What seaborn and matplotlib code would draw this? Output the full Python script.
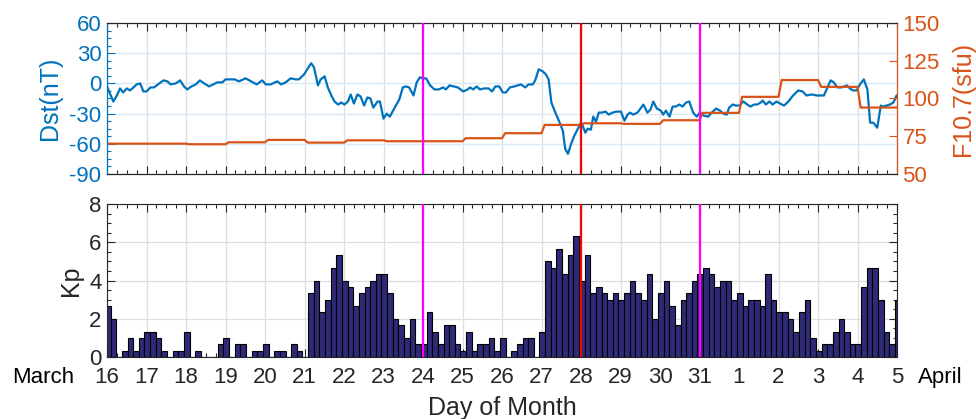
import numpy as np
import pandas as pd
import matplotlib
matplotlib.use("Agg")
import matplotlib.pyplot as plt
from matplotlib.ticker import MultipleLocator, FixedLocator
import seaborn as sns

# ---------------- data ----------------
# Dst (nT): time in day-of-month (March 16 = 16, April 1 = 32)
dst_day = [16.0, 16.16, 16.25, 16.33, 16.41, 16.5, 16.58, 16.67, 16.75, 16.84, 16.92, 17.0,
           17.1, 17.19, 17.29, 17.43, 17.53, 17.61, 17.74, 17.85, 17.95, 18.03, 18.14, 18.25,
           18.35, 18.46, 18.58, 18.69, 18.79, 18.92, 19.0, 19.13, 19.23, 19.34, 19.51, 19.65,
           19.79, 19.93, 20.02, 20.14, 20.31, 20.41, 20.52, 20.65, 20.78, 20.86, 20.99, 21.07,
           21.17, 21.24, 21.34, 21.41, 21.51, 21.59, 21.68, 21.76, 21.85, 21.93, 22.01, 22.1,
           22.17, 22.25, 22.34, 22.42, 22.51, 22.59, 22.67, 22.74, 22.85, 22.91, 23.0, 23.08,
           23.16, 23.27, 23.4, 23.49, 23.57, 23.65, 23.76, 23.84, 23.92, 24.01, 24.08, 24.18,
           24.29, 24.4, 24.51, 24.58, 24.67, 24.77, 24.88, 25.02, 25.13, 25.19, 25.27, 25.36,
           25.44, 25.55, 25.66, 25.75, 25.83, 25.93, 26.02, 26.1, 26.2, 26.31, 26.4, 26.48,
           26.59, 26.67, 26.78, 26.84, 26.93, 27.03, 27.11, 27.18, 27.25, 27.35, 27.45, 27.54,
           27.6, 27.67, 27.75, 27.83, 27.92, 28.0, 28.04, 28.11, 28.17, 28.25, 28.31, 28.38,
           28.45, 28.53, 28.62, 28.7, 28.8, 28.9, 29.01, 29.1, 29.18, 29.24, 29.32, 29.43,
           29.58, 29.68, 29.76, 29.83, 29.92, 30.02, 30.08, 30.15, 30.24, 30.32, 30.4, 30.49,
           30.57, 30.66, 30.74, 30.84, 30.93, 31.01, 31.11, 31.22, 31.31, 31.42, 31.52, 31.6,
           31.69, 31.75, 31.84, 31.92, 32.01, 32.11, 32.21, 32.29, 32.38, 32.46, 32.55, 32.6,
           32.68, 32.77, 32.85, 32.95, 33.04, 33.14, 33.25, 33.37, 33.5, 33.61, 33.71, 33.84,
           33.97, 34.15, 34.24, 34.32, 34.4, 34.49, 34.6, 34.73, 34.81, 34.88, 34.98, 35.06,
           35.16, 35.25, 35.32, 35.4, 35.5, 35.59, 35.65, 35.74, 35.82, 35.91, 35.99]
dst_nT = [-3, -18, -12, -5, -9, -5, -7, -4, -1, 0, -8, -8,
          -4, -4, -1, 3, 2, -1, 0, 3, -3, -6, -3, -1,
          3, 0, -3, -1, 1, 1, 4, 4, 4, 2, 5, 2,
          -1, 3, -1, -1, 2, -1, 1, 5, 4, 4, 9, 14,
          20, 16, -2, 4, 7, -4, -12, -18, -21, -19, -21, -18,
          -11, -20, -11, -13, -22, -14, -15, -24, -18, -18, -35, -30,
          -33, -25, -16, -4, -3, -4, -12, 1, 6, 5, 5, -2,
          -6, -6, -4, -6, -2, -3, -4, -8, -6, -4, -6, -3,
          -6, -5, -5, -8, -3, -3, -9, -9, -4, -3, -2, -1,
          -4, -1, -1, 3, 14, 12, 9, 4, -19, -29, -38, -47,
          -65, -70, -60, -52, -45, -39, -42, -49, -45, -46, -33, -38,
          -29, -29, -28, -31, -29, -28, -28, -37, -31, -29, -31, -29,
          -21, -29, -26, -18, -25, -27, -31, -27, -33, -23, -23, -21,
          -23, -19, -18, -29, -33, -29, -32, -33, -29, -25, -27, -30,
          -31, -24, -21, -22, -22, -18, -21, -23, -21, -21, -19, -17,
          -21, -18, -21, -18, -20, -22, -18, -12, -7, -8, -12, -11,
          -12, -12, -4, 3, 1, -4, -4, -2, -5, -7, -7, -1,
          4, -6, -39, -39, -44, -22, -23, -22, -21, -19, -12]

# F10.7 (sfu): one value per day, days 16 .. 35 (April 4)
f107_day = list(range(16, 36))
f107_sfu = [70.1, 70.1, 69.7, 71.0, 72.6, 70.8, 72.3, 71.7, 71.7, 73.7,
            77.0, 82.5, 83.6, 83.2, 85.6, 90.5, 101.1, 112.2, 107.7, 94.0]

# Kp index bars (7 per day starting at March 16)
kp = [2.67, 2.0, 0, 0.33, 1.0, 0.33, 1.0, 1.33, 1.33, 1.0,
      0.33, 0, 0.33, 0.33, 1.33, 0, 0.33, 0, 0, 0,
      0.67, 1.0, 0, 0.67, 0.67, 0, 0.33, 0.33, 0.67, 0,
      0.33, 0.33, 0, 0.67, 0.33, 0, 3.33, 4.0, 2.33, 3.0,
      4.67, 5.33, 4.0, 3.67, 2.67, 3.33, 3.67, 4.0, 4.33, 4.33,
      3.33, 2.0, 1.67, 1.0, 2.0, 0.67, 0.67, 2.33, 1.33, 0.67,
      1.67, 1.67, 0.67, 0.33, 1.33, 0.33, 0.67, 0.67, 1.0, 0.33,
      1.0, 0, 0.33, 0.67, 1.0, 1.0, 0, 1.33, 5.0, 4.67,
      5.67, 4.33, 5.33, 6.33, 4.0, 5.33, 3.33, 3.67, 3.33, 3.0,
      3.33, 3.0, 3.33, 4.0, 3.33, 3.0, 4.33, 2.0, 3.33, 4.0,
      2.67, 1.67, 3.0, 3.33, 4.0, 4.33, 4.67, 4.33, 3.67, 4.0,
      4.0, 3.0, 3.33, 2.67, 3.0, 3.0, 2.67, 4.33, 3.0, 2.33,
      2.33, 2.0, 1.33, 2.33, 3.0, 1.0, 0.33, 0.67, 0.67, 1.33,
      2.0, 1.33, 0.67, 0.67, 3.67, 4.67, 4.67, 3.0, 1.33, 0.67, 3.0]
kp_start = 16.02
kp_per_day = 7
kp_time = kp_start + np.arange(len(kp)) / kp_per_day

tick_days = list(range(16, 37))
tick_labels = [str(d) for d in range(16, 32)] + [str(d) for d in range(1, 6)]
event_magenta = [24, 31]
event_red = [28]

# ---------------- style ----------------
sns.set_theme(style="white")
plt.rcParams['font.family'] = ['Liberation Sans', 'DejaVu Sans']
plt.rcParams['axes.linewidth'] = 0.8
plt.rcParams['axes.unicode_minus'] = False

BLUE = '#0072BD'
ORANGE = '#D95319'
DARK = '#262626'
BAR = '#2E2A78'
GRID = '#DEDEDE'
GRID_BLUE = '#D9EAF5'

W, H = 976, 419
fig = plt.figure(figsize=(W / 100, H / 100), dpi=100)

def frac(left, top, right, bottom):
    return [left / W, 1 - bottom / H, (right - left) / W, (bottom - top) / H]

ax1 = fig.add_axes(frac(107, 23, 897, 174))
ax3 = fig.add_axes(frac(107, 204, 897, 357))

# ---------- top panel ----------
sns.lineplot(x=dst_day, y=dst_nT, ax=ax1, color=BLUE, linewidth=1.6, estimator=None)
ax1.set_xlim(16, 36)
ax1.set_ylim(-90, 60)
ax1.yaxis.set_major_locator(MultipleLocator(30))
ax1.yaxis.set_minor_locator(MultipleLocator(7.5))
ax1.xaxis.set_major_locator(FixedLocator(tick_days))
ax1.xaxis.set_minor_locator(MultipleLocator(0.25))
ax1.tick_params(axis='x', which='both', direction='in', top=True, bottom=True,
                labelbottom=False, color=DARK)
ax1.tick_params(axis='x', which='major', length=6, width=0.8)
ax1.tick_params(axis='x', which='minor', length=3, width=0.8)
ax1.tick_params(axis='y', which='both', direction='in', left=True, right=False,
                colors=BLUE, labelsize=16, pad=4)
ax1.tick_params(axis='y', which='major', length=6, width=0.8)
ax1.tick_params(axis='y', which='minor', length=3, width=0.8)
ax1.grid(axis='y', which='major', color=GRID_BLUE, linewidth=1.0)
ax1.grid(axis='x', which='major', color=GRID, linewidth=0.9)
ax1.set_axisbelow(True)
for s in ['top', 'bottom']:
    ax1.spines[s].set_color(DARK)
ax1.spines['left'].set_color(BLUE)
ax1.set_xlabel('')
ax1.set_ylabel('Dst(nT)', fontsize=18, color=BLUE)
ax1.yaxis.label.set_va('center')
ax1.yaxis.label.set_ha('center')
ax1.yaxis.set_label_coords(-0.072, 0.5)

ax2 = ax1.twinx()
f_t, f_v = [], []
ramp = 0.08
for d, v in zip(f107_day, f107_sfu):
    f_t += [d + (ramp if d > f107_day[0] else 0.0), d + 1]
    f_v += [v, v]
sns.lineplot(x=f_t, y=f_v, ax=ax2, color=ORANGE, linewidth=1.6, estimator=None, sort=False)
ax2.set_ylim(50, 150)
ax2.yaxis.set_major_locator(MultipleLocator(25))
ax2.tick_params(axis='y', which='major', direction='in', colors=ORANGE, labelsize=16,
                length=6, width=0.8, pad=4)
ax2.spines['right'].set_color(ORANGE)
ax2.spines['left'].set_color(BLUE)
for s in ['top', 'bottom']:
    ax2.spines[s].set_color(DARK)
ax2.set_ylabel('F10.7(sfu)', fontsize=18, color=ORANGE)
ax2.yaxis.label.set_va('center')
ax2.yaxis.label.set_ha('center')
ax2.yaxis.label.set_rotation(90)
ax2.yaxis.set_label_coords(1.083, 0.5)
ax2.grid(False)

for d in event_magenta:
    ax2.axvline(d, color='#FF00FF', linewidth=1.6, zorder=5)
for d in event_red:
    ax2.axvline(d, color='#FF0000', linewidth=1.6, zorder=5)

# ---------- bottom panel ----------
sns.barplot(x=kp_time, y=kp, ax=ax3, native_scale=True, width=1.0, color=BAR,
            saturation=1, edgecolor='black', linewidth=0.8, errorbar=None)
ax3.set_xlim(16, 36)
ax3.set_ylim(0, 8)
ax3.yaxis.set_major_locator(MultipleLocator(2))
ax3.yaxis.set_minor_locator(MultipleLocator(0.5))
ax3.xaxis.set_major_locator(FixedLocator(tick_days))
ax3.xaxis.set_minor_locator(MultipleLocator(0.25))
ax3.set_xticklabels(tick_labels)
ax3.tick_params(axis='both', which='both', direction='in', top=True, bottom=True,
                left=True, right=True, colors=DARK, labelsize=16)
ax3.tick_params(axis='both', which='major', length=6, width=0.8)
ax3.tick_params(axis='both', which='minor', length=3, width=0.8)
ax3.tick_params(axis='x', pad=7)
ax3.tick_params(axis='y', pad=4)
ax3.grid(axis='both', which='major', color=GRID, linewidth=0.9)
ax3.set_axisbelow(True)
for s in ax3.spines.values():
    s.set_color(DARK)
for d in event_magenta:
    ax3.axvline(d, color='#FF00FF', linewidth=1.6, zorder=5)
for d in event_red:
    ax3.axvline(d, color='#FF0000', linewidth=1.6, zorder=5)
ax3.set_ylabel('Kp', fontsize=18, color=DARK)
ax3.yaxis.label.set_va('center')
ax3.yaxis.label.set_ha('center')
ax3.yaxis.set_label_coords(-0.046, 0.5)
ax3.set_xlabel('Day of Month', fontsize=18, color=DARK, labelpad=6)

fig.text(12 / W, 1 - 377 / H, 'March', fontsize=16, color='black', ha='left', va='center')
fig.text(918 / W, 1 - 377 / H, 'April', fontsize=16, color='black', ha='left', va='center')

fig.savefig('out.png', dpi=100)
